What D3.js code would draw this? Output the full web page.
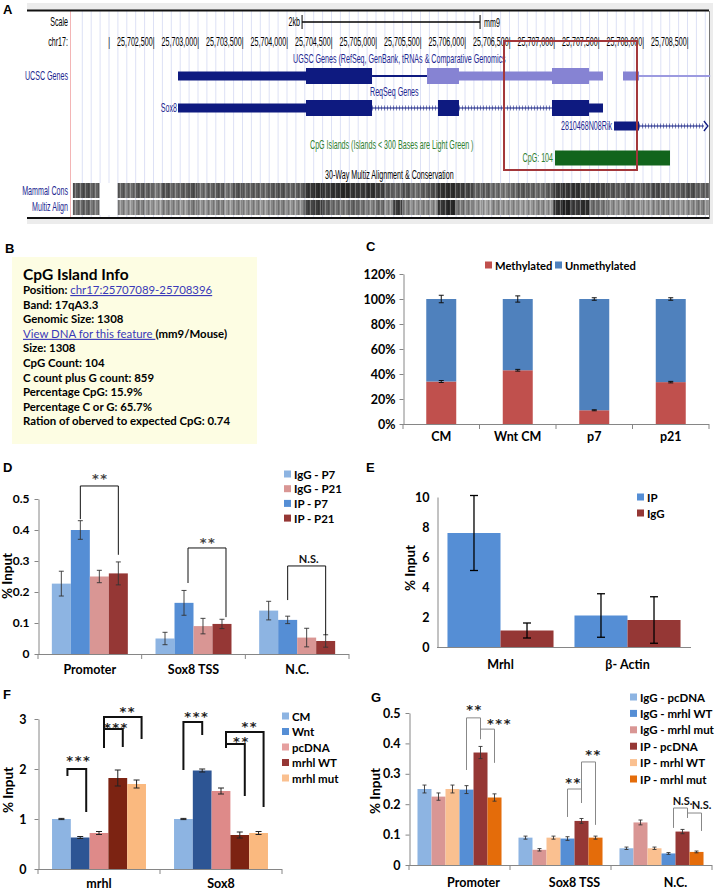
<!DOCTYPE html>
<html><head><meta charset="utf-8">
<script src="https://cdn.jsdelivr.net/npm/d3@7"></script>
<style>
body{margin:0;background:#fff;}
svg{display:block;}
</style></head><body>
<script>
// ================= DATA =================
// Panel A (genome browser)
const chrTickPos = [25702000,25702500,25703000,25703500,25704000,25704500,25705000,25705500,25706000,25706500,25707000,25707500,25708000,25708500];
const chrTickLabels = ["","25,702,500","25,703,000","25,703,500","25,704,000","25,704,500","25,705,000","25,705,500","25,706,000","25,706,500","25,707,000","25,707,500","25,708,000","25,708,500"];
const ucscGene = [
  [25702781,25704219,"utr","dark"],[25704219,25704961,"cds","dark"],[25704961,25705579,"line","dark"],
  [25705579,25705938,"cds","light"],[25705938,25706983,"utr","light"],[25706983,25707399,"cds","light"],
  [25707399,25707556,"utr","light"],[25707781,25707961,"utr","light"],[25707961,25708760,"line","pale"]];
const sox8Gene = [
  [25702781,25704219,"utr","dark"],[25704219,25704961,"cds","dark"],[25704961,25705702,"intron","dark"],
  [25705702,25705938,"cds","dark"],[25705938,25706983,"intron","dark"],[25706983,25707399,"cds","dark"],
  [25707399,25707556,"utr","dark"]];
const rikGene = [[25707680,25707961,"utr","dark"],[25707961,25708690,"intron","dark"]];
const cpgIsland = [25707017,25708309];
const highlightBox = [25706444,25707938];
const scaleBar = [25704175,25706175];
const consStart = 25701600;
const mammalCons = [90,80,100,null,null,
 95,110,90,100,120,85,105,95,80,110,100,90,115,85,100,95,105,90,85,100,95,
 55,45,60,50,40,55,60,50,65, 90,100,85,110,95,80, 50,45,60,70,
 100,95,110,120,105,90,100,110,95, 60,55,50,65,60,70,
 85,95,80,100,90,75,85,95,90,80,100,90];
const multizAlign = [110,100,120,null,null,
 140,150,130,145,155,135,140,150,125,145,140,130,150,135,145,140,150,135,130,145,140,
 70,60,90,110,120,100,115,130,110, 140,60,130,145,135,140, 55,40,120,130,
 150,160,140,150,145,155,150,140,150, 50,35,60,45,110,120,
 140,150,135,145,150,140,135,145,150,140,130,145];

// Panel B
const bTitle = "CpG Island Info";
const bLabels = ["Position: ","Band: ","Genomic Size: ","","Size: ","CpG Count: ","C count plus G count: ","Percentage CpG: ","Percentage C or G: ","Ration of oberved to expected CpG: "];
const bValues = ["chr17:25707089-25708396","17qA3.3","1308","View DNA for this feature ","1308","104","859","15.9%","65.7%","0.74"];
const bLinks = [true,false,false,true,false,false,false,false,false,false];
const bSuffix = ["","","","(mm9/Mouse)","","","","","",""];

// Panel C
const cCats = ["CM","Wnt CM","p7","p21"];
const cMethylated = [34,43,11,33.5];
const cMethylatedErr = [0.8,0.7,0.4,0.6];
const cUnmethylated = [66,57,89,66.5];
const cTotalErr = [3,2.5,1,1];
const cTicks = [0,20,40,60,80,100,120];

// Panel D
const dCats = ["Promoter","Sox8 TSS","N.C."];
const dSeries = ["IgG - P7","IP - P7","IgG - P21","IP - P21"];
const dLegend = ["IgG - P7","IgG - P21","IP - P7","IP - P21"];
const dIgGP7 = [0.227,0.05,0.14],  dIgGP7Err = [0.04,0.02,0.03];
const dIPP7 = [0.40,0.165,0.11],   dIPP7Err = [0.03,0.04,0.012];
const dIgGP21 = [0.25,0.09,0.053], dIgGP21Err = [0.02,0.025,0.03];
const dIPP21 = [0.26,0.097,0.042], dIPP21Err = [0.037,0.015,0.02];
const dTicks = [0,0.1,0.2,0.3,0.4,0.5];
const dBrackets = [
  {cat:"Promoter",a:1,b:3,top:0.542,endA:0.435,endB:0.32,label:"**"},
  {cat:"Sox8 TSS",a:1,b:3,top:0.342,endA:0.229,endB:0.119,label:"**"},
  {cat:"N.C.",a:1,b:3,top:0.284,endA:0.174,endB:0.061,label:"N.S."}];

// Panel E
const eCats = ["Mrhl","β- Actin"];
const eSeries = ["IP","IgG"];
const eIP = [7.6,2.1], eIPErr = [2.5,1.45];
const eIgG = [1.1,1.8], eIgGErr = [0.5,1.55];
const eTicks = [0,2,4,6,8,10];

// Panel F
const fCats = ["mrhl","Sox8"];
const fSeries = ["CM","Wnt","pcDNA","mrhl WT","mrhl mut"];
const fCM = [1.0,1.0], fCMErr = [0.012,0.012];
const fWnt = [0.63,1.97], fWntErr = [0.02,0.03];
const fPcDNA = [0.72,1.56], fPcDNAErr = [0.03,0.06];
const fMrhlWT = [1.82,0.68], fMrhlWTErr = [0.16,0.06];
const fMrhlMut = [1.7,0.72], fMrhlMutErr = [0.08,0.03];
const fTicks = [0,1,2,3];
const fBrackets = [
  {cat:"mrhl",a:0,b:1,top:2.0,endA:1.86,endB:1.14,label:"***"},
  {cat:"mrhl",a:2,b:3,top:2.8,endA:2.42,endB:2.44,label:"***"},
  {cat:"mrhl",a:2,b:4,top:3.04,endA:2.42,endB:2.6,label:"**"},
  {cat:"Sox8",a:0,b:1,top:2.94,endA:1.98,endB:2.68,label:"***"},
  {cat:"Sox8",a:2,b:3,top:2.5,endA:2.42,endB:1.46,label:"**"},
  {cat:"Sox8",a:2,b:4,top:2.74,endA:2.42,endB:1.24,label:"**"}];

// Panel G
const gCats = ["Promoter","Sox8 TSS","N.C."];
const gSeries = ["IgG - pcDNA","IgG - mrhl mut","IP - mrhl WT","IgG - mrhl WT","IP - pcDNA","IP - mrhl mut"];
const gLegend = ["IgG - pcDNA","IgG - mrhl WT","IgG - mrhl mut","IP - pcDNA","IP - mrhl WT","IP - mrhl mut"];
const gIgGPcDNA = [0.25,0.09,0.055],   gIgGPcDNAErr = [0.013,0.005,0.004];
const gIgGMut = [0.225,0.05,0.14],     gIgGMutErr = [0.012,0.004,0.008];
const gIPWT = [0.25,0.09,0.055],       gIPWTErr = [0.013,0.005,0.004];
const gIgGWT = [0.248,0.087,0.038],    gIgGWTErr = [0.013,0.006,0.003];
const gIPPcDNA = [0.37,0.145,0.11],    gIPPcDNAErr = [0.02,0.008,0.007];
const gIPMut = [0.222,0.09,0.043],     gIPMutErr = [0.012,0.005,0.003];
const gTicks = [0,0.1,0.2,0.3,0.4,0.5];
const gBrackets = [
  {cat:"Promoter",a:3,b:4,top:0.484,endA:0.3125,endB:0.414,label:"**"},
  {cat:"Promoter",a:4,b:5,top:0.447,endA:0.414,endB:0.336,label:"***"},
  {cat:"Sox8 TSS",a:3,b:4,top:0.25,endA:0.158,endB:0.204,label:"**"},
  {cat:"Sox8 TSS",a:4,b:5,top:0.339,endA:0.204,endB:0.132,label:"**"},
  {cat:"N.C.",a:3,b:4,top:0.1875,endA:0.122,endB:0.155,label:"N.S."},
  {cat:"N.C.",a:4,b:5,top:0.171,endA:0.155,endB:0.112,label:"N.S."}];

// ================= LAYOUT (annotation nudges: [bracket shift x, label dx, label rise]) =================
const dBracketLayout = [[0,0,11],[4,0,9],[0,2,7]];
const fBracketLayout = [[6,1,12],[5,2,5],[5,4,9],[0,3,9],[5,5,6],[5,4,9]];
const gBracketLayout = [[0,0,11],[0,11,9],[0,-2,10],[0,4,10],[5,2,7],[5,7,8]];

// ================= DRAW =================
const F = "Lato, 'Open Sans', sans-serif";
const NARROW = "'Liberation Sans Narrow','Liberation Sans',Arial,sans-serif";
const svg = d3.select("body").append("svg").attr("width",720).attr("height",890);

function panelLetter(t,x,y){
  svg.append("text").attr("x",x).attr("y",y).attr("font-family","'Liberation Sans',Arial,sans-serif")
    .attr("font-weight","bold").attr("font-size",13).text(t);
}
function condText(g,x,y,txt,anchor,color){
  return g.append("text").attr("transform",`translate(${x},${y}) scale(0.57,1)`)
    .attr("text-anchor",anchor||"start").attr("dominant-baseline","central")
    .attr("font-family",NARROW).attr("font-size",12.5).attr("fill",color||"#000").text(txt);
}

// ---------- Panel A ----------
const gA = svg.append("g");
const gx = d3.scaleLinear([25702500,25708500],[153,687]);
const geneCol = {dark:"#0e1a80",light:"#8683d3",pale:"#9c9ae0"};
gA.append("rect").attr("x",27).attr("y",3).attr("width",686).attr("height",221).attr("fill","#ececec");
gA.append("rect").attr("x",27).attr("y",11).attr("width",682).attr("height",206).attr("fill","#fff");
gA.selectAll("line.grid").data(d3.range(25701700,25708701,100)).join("line")
  .attr("x1",d=>gx(d)+0.5).attr("x2",d=>gx(d)+0.5).attr("y1",11).attr("y2",217)
  .attr("stroke","#dde1f5").attr("stroke-width",1);
gA.append("line").attr("x1",70.5).attr("x2",70.5).attr("y1",11).attr("y2",217).attr("stroke","#f3b5b5");
gA.append("line").attr("x1",27).attr("x2",709).attr("y1",10.5).attr("y2",10.5).attr("stroke","#111").attr("stroke-width",2);
gA.append("line").attr("x1",27).attr("x2",709).attr("y1",218).attr("y2",218).attr("stroke","#111").attr("stroke-width",2);
gA.append("line").attr("x1",709.5).attr("x2",709.5).attr("y1",11).attr("y2",219).attr("stroke","#777");

condText(gA,68,22,"Scale","end");
condText(gA,300,22,"2kb","end");
gA.append("line").attr("x1",gx(scaleBar[0])).attr("x2",gx(scaleBar[1])).attr("y1",22).attr("y2",22).attr("stroke","#000").attr("stroke-width",1.3);
[scaleBar[0],scaleBar[1]].forEach(p=>gA.append("line").attr("x1",gx(p)).attr("x2",gx(p)).attr("y1",15).attr("y2",29).attr("stroke","#000"));
condText(gA,gx(scaleBar[1])+4,23,"mm9","start");
condText(gA,68,42,"chr17:","end");
chrTickPos.forEach((p,i)=>condText(gA,gx(p)+1.5,42,chrTickLabels[i]+"|","end"));

function drawGene(segs,yc){
  segs.forEach(([s,e,t,c])=>{
    const x1=gx(s),x2=gx(e),col=geneCol[c];
    if(t==="cds") gA.append("rect").attr("x",x1).attr("y",yc-8).attr("width",x2-x1).attr("height",16).attr("fill",col);
    else if(t==="utr") gA.append("rect").attr("x",x1).attr("y",yc-4.5).attr("width",x2-x1).attr("height",9).attr("fill",col);
    else if(t==="line") gA.append("rect").attr("x",x1).attr("y",yc-1).attr("width",x2-x1).attr("height",2).attr("fill",col);
    else {
      gA.append("line").attr("x1",x1).attr("x2",x2).attr("y1",yc).attr("y2",yc).attr("stroke",col).attr("stroke-width",1);
      gA.append("line").attr("x1",x1).attr("x2",x2).attr("y1",yc).attr("y2",yc).attr("stroke",col)
        .attr("stroke-width",5).attr("stroke-dasharray","1,2").attr("opacity",0.55);
    }
  });
}
condText(gA,68,76,"UCSC Genes","end","#1c2690");
condText(gA,293,59,"UGSC Genes (RefSeq, GenBank, tRNAs &  Comparative Genomics","start","#1c2690");
drawGene(ucscGene,76);
condText(gA,370,92,"ReqSeq Genes","start","#1c2690");
condText(gA,gx(sox8Gene[0][0])-1,108,"Sox8","end","#1c2690");
drawGene(sox8Gene,108);
condText(gA,gx(rikGene[0][0])-2,126,"2810468N08Rik","end","#1c2690");
drawGene(rikGene,126);
{const xe=gx(rikGene[1][1]);
 gA.append("path").attr("d",`M${xe},121 L${xe+4},126 L${xe},131`).attr("fill","none").attr("stroke",geneCol.dark).attr("stroke-width",1.3);}
condText(gA,310,145,"CpG Islands (Islands < 300 Bases are Light Green )","start","#2e8030");
condText(gA,gx(cpgIsland[0])-2,158,"CpG: 104","end","#2e8030");
gA.append("rect").attr("x",gx(cpgIsland[0])).attr("y",150.5).attr("width",gx(cpgIsland[1])-gx(cpgIsland[0])).attr("height",15).attr("fill","#12641c");
condText(gA,325,175,"30-Way Multiz Alignment & Conservation","start","#000");

const defs = svg.append("defs");
const pat = defs.append("pattern").attr("id","stripes").attr("patternUnits","userSpaceOnUse").attr("width",5).attr("height",10);
pat.append("rect").attr("x",0).attr("y",0).attr("width",1).attr("height",10).attr("fill","#fff").attr("opacity",0.28);
pat.append("rect").attr("x",3).attr("y",0).attr("width",1).attr("height",10).attr("fill","#000").attr("opacity",0.18);
function consTrack(vals,y,h){
  vals.forEach((v,i)=>{
    if(v===null) return;
    const s=consStart+i*100, x1=Math.max(gx(s),72), x2=Math.min(gx(s+100),708.5);
    if(x2<=x1) return;
    gA.append("rect").attr("x",x1).attr("y",y).attr("width",x2-x1+0.3).attr("height",h).attr("fill",d3.rgb(v,v,v));
  });
  gA.append("rect").attr("x",72).attr("y",y).attr("width",636.5).attr("height",h).attr("fill","url(#stripes)");
}
consTrack(mammalCons,183,15);
consTrack(multizAlign,200,15);
gA.append("rect").attr("x",gx(consStart+300)).attr("y",183).attr("width",gx(consStart+500)-gx(consStart+300)).attr("height",32).attr("fill","#fff");
condText(gA,68,191,"Mammal Cons","end","#1c2690");
condText(gA,68,207,"Multiz Align","end","#1c2690");
gA.append("rect").attr("x",gx(highlightBox[0])).attr("y",41).attr("width",gx(highlightBox[1])-gx(highlightBox[0])).attr("height",129)
  .attr("fill","none").attr("stroke","#a3363a").attr("stroke-width",2);
panelLetter("A",3,14);

// ---------- Panel B ----------
const gB = svg.append("g");
panelLetter("B",5,253);
gB.append("rect").attr("x",12).attr("y",257).attr("width",245).attr("height",187).attr("fill","#fdfde3");
gB.append("text").attr("x",23).attr("y",280).attr("font-family",F).attr("font-weight","bold").attr("font-size",15.5).text(bTitle);
bLabels.forEach((lab,i)=>{
  const t = gB.append("text").attr("x",23).attr("y",294+i*14.6).attr("font-family",F).attr("font-size",11.4).attr("font-weight","bold");
  if(lab) t.append("tspan").text(lab);
  const v = t.append("tspan").text(bValues[i]);
  if(bLinks[i]) v.attr("fill","#3a3ab8").attr("font-weight","normal").attr("text-decoration","underline");
  if(bSuffix[i]) t.append("tspan").text(bSuffix[i]);
});

// ---------- helpers ----------
function styleAxis(a,fs){
  a.select(".domain").attr("stroke","#868686");
  a.selectAll(".tick line").attr("stroke","#868686");
  a.selectAll(".tick text").attr("font-family",F).attr("font-weight","bold").attr("font-size",fs||12).attr("fill","#000");
}
function errBar(g,x,ya,yb,cap,col,sw){
  g.append("line").attr("x1",x).attr("x2",x).attr("y1",ya).attr("y2",yb).attr("stroke",col).attr("stroke-width",sw);
  [ya,yb].forEach(yy=>g.append("line").attr("x1",x-cap/2).attr("x2",x+cap/2).attr("y1",yy).attr("y2",yy).attr("stroke",col).attr("stroke-width",sw));
}
function yTitle(g,x,y){
  g.append("text").attr("transform",`translate(${x},${y}) rotate(-90)`).attr("text-anchor","middle")
    .attr("font-family",F).attr("font-weight","bold").attr("font-size",13.5).text("% Input");
}
function legend(g,names,colors,x,y0,dy,fs){
  names.forEach((n,i)=>{
    g.append("rect").attr("x",x).attr("y",y0+i*dy-3.5).attr("width",7).attr("height",7).attr("fill",colors[i]);
    g.append("text").attr("x",x+10).attr("y",y0+i*dy).attr("dominant-baseline","central")
      .attr("font-family",F).attr("font-weight","bold").attr("font-size",fs||11.5).text(n);
  });
}
function catLabels(g,x0,cats,y,dx){
  cats.forEach(c=>g.append("text").attr("x",x0(c)+x0.bandwidth()/2+(dx||0)).attr("y",y).attr("text-anchor","middle")
    .attr("font-family",F).attr("font-weight","bold").attr("font-size",12.5).text(c));
}
function grouped(g,cats,vals,errs,colors,x0,x1,y,errCol,cap,sw){
  vals.forEach((arr,si)=>{
    g.selectAll(null).data(cats).join("rect")
      .attr("x",c=>x0(c)+x1(si)).attr("width",x1.bandwidth())
      .attr("y",(c,ci)=>y(arr[ci])).attr("height",(c,ci)=>y(0)-y(arr[ci])).attr("fill",colors[si]);
  });
  vals.forEach((arr,si)=>cats.forEach((c,ci)=>{
    const cx=x0(c)+x1(si)+x1.bandwidth()/2;
    errBar(g,cx,y(arr[ci]+errs[si][ci]),y(arr[ci]-errs[si][ci]),cap,errCol,sw);
  }));
}
function brackets(g,list,layout,x0,x1,y,col,sw,starCol){
  list.forEach((b,i)=>{
    const [sh,ldx,rise]=layout[i];
    const xa=x0(b.cat)+x1(b.a)+x1.bandwidth()/2+sh, xb=x0(b.cat)+x1(b.b)+x1.bandwidth()/2+sh;
    g.append("path").attr("d",`M${xa},${y(b.endA)}V${y(b.top)}H${xb}V${y(b.endB)}`)
      .attr("fill","none").attr("stroke",col).attr("stroke-width",sw);
    const star = b.label.indexOf("*")>=0;
    const cy = y(b.top)-rise, fs = star?13:11;
    g.append("text").attr("x",(xa+xb)/2+ldx+(star?1:0)).attr("y",cy+(star?0.58:0.36)*fs).attr("text-anchor","middle")
      .attr("font-family",star?"'DejaVu Sans',sans-serif":F).attr("font-weight","bold").attr("font-size",fs)
      .attr("letter-spacing",star?"1.5px":"0").attr("fill",star?starCol:"#111").text(b.label);
  });
}
function xAxisLine(g,x0,y,ticks){
  const r=x0.range();
  g.append("line").attr("x1",r[0]).attr("x2",r[1]).attr("y1",y+0.5).attr("y2",y+0.5).attr("stroke","#868686");
  if(ticks) d3.range(x0.domain().length+1).forEach(i=>{
    const xx=r[0]+i*(r[1]-r[0])/x0.domain().length;
    g.append("line").attr("x1",xx).attr("x2",xx).attr("y1",y).attr("y2",y+5).attr("stroke","#868686");
  });
}

// ---------- Panel C ----------
const gC = svg.append("g");
panelLetter("C",366,251);
const xC = d3.scaleBand(cCats,[403,709]).paddingInner(0.608).paddingOuter(0.304);
const yC = d3.scaleLinear([0,120],[424,274]);
const axC = gC.append("g").attr("transform","translate(403.5,0)")
  .call(d3.axisLeft(yC).tickValues(cTicks).tickFormat(d=>d+"%").tickSize(4).tickSizeOuter(0).tickPadding(4));
styleAxis(axC,12.5);
const cRows = cCats.map((c,i)=>({cat:c,m:cMethylated[i],u:cUnmethylated[i]}));
const cStack = d3.stack().keys(["m","u"])(cRows);
const cColors = {m:"#c0504d",u:"#4f81bd"};
cStack.forEach(layer=>{
  gC.selectAll(null).data(layer).join("rect").attr("x",d=>xC(d.data.cat)).attr("width",xC.bandwidth())
    .attr("y",d=>yC(d[1])).attr("height",d=>yC(d[0])-yC(d[1])).attr("fill",cColors[layer.key]);
});
xAxisLine(gC,xC,424,true);
cCats.forEach((c,i)=>{
  const cx=xC(c)+xC.bandwidth()/2;
  errBar(gC,cx,yC(cMethylated[i]+cMethylatedErr[i]),yC(cMethylated[i]-cMethylatedErr[i]),5,"#111",1);
  const tot=cMethylated[i]+cUnmethylated[i];
  errBar(gC,cx,yC(tot+cTotalErr[i]),yC(tot-cTotalErr[i]),5,"#111",1);
});
catLabels(gC,xC,cCats,441);
legend(gC,["Methylated"],["#c0504d"],485,265,0,11.2);
legend(gC,["Unmethylated"],["#4f81bd"],555,265,0,11.2);

// ---------- Panel D ----------
const gD = svg.append("g");
panelLetter("D",3,472);
const xD = d3.scaleBand(dCats,[38,349]).paddingInner(0.267).paddingOuter(0.1335);
const xD1 = d3.scaleBand(d3.range(4),[0,xD.bandwidth()]);
const yD = d3.scaleLinear([0,0.5],[654,499]);
const dColors = {"IgG - P7":"#8db4e2","IP - P7":"#558ed5","IgG - P21":"#d99694","IP - P21":"#953735"};
const axD = gD.append("g").attr("transform","translate(38.5,0)")
  .call(d3.axisLeft(yD).tickValues(dTicks).tickFormat(d=>d===0?"0":d3.format(".1f")(d)).tickSize(4).tickSizeOuter(0).tickPadding(5));
styleAxis(axD,12);
grouped(gD,dCats,[dIgGP7,dIPP7,dIgGP21,dIPP21],[dIgGP7Err,dIPP7Err,dIgGP21Err,dIPP21Err],dSeries.map(s=>dColors[s]),xD,xD1,yD,"#333",5,0.9);
xAxisLine(gD,xD,654,true);
brackets(gD,dBrackets,dBracketLayout,xD,xD1,yD,"#111",1,"#444");
catLabels(gD,xD,dCats,674);
yTitle(gD,12,576);
legend(gD,dLegend,dLegend.map(s=>dColors[s]),284,474,14.7,11.5);

// ---------- Panel E ----------
const gE = svg.append("g");
panelLetter("E",366,472);
const xE = d3.scaleBand(eCats,[437,691]).paddingInner(0.165).paddingOuter(0.0825);
const xE1 = d3.scaleBand(d3.range(2),[0,xE.bandwidth()]);
const yE = d3.scaleLinear([0,10],[647,497]);
const eColors = ["#558ed5","#953735"];
const axE = gE.append("g").attr("transform","translate(437.5,0)")
  .call(d3.axisLeft(yE).tickValues(eTicks).tickSize(0).tickSizeOuter(0).tickPadding(8));
styleAxis(axE,12.5);
grouped(gE,eCats,[eIP,eIgG],[eIPErr,eIgGErr],eColors,xE,xE1,yE,"#000",8,1.3);
xAxisLine(gE,xE,647,false);
catLabels(gE,xE,eCats,669);
yTitle(gE,415,568);
legend(gE,eSeries,eColors,637,497,16,11.5);

// ---------- Panel F ----------
const gF = svg.append("g");
panelLetter("F",3,699);
const xF = d3.scaleBand(fCats,[38,282]).paddingInner(0.23).paddingOuter(0.115);
const xF1 = d3.scaleBand(d3.range(5),[0,xF.bandwidth()]);
const yF = d3.scaleLinear([0,3],[869,719]);
const fBarColors = ["#8db4e2","#2d5594","#de8a89","#7c2312","#fab97f"];
const fLegendColors = ["#8db4e2","#558ed5","#e6a09f","#953735","#fac090"];
const axF = gF.append("g").attr("transform","translate(38.5,0)")
  .call(d3.axisLeft(yF).tickValues(fTicks).tickFormat(d3.format("d")).tickSize(4).tickSizeOuter(0).tickPadding(8));
styleAxis(axF,12.5);
grouped(gF,fCats,[fCM,fWnt,fPcDNA,fMrhlWT,fMrhlMut],[fCMErr,fWntErr,fPcDNAErr,fMrhlWTErr,fMrhlMutErr],fBarColors,xF,xF1,yF,"#222",6,1);
xAxisLine(gF,xF,869,true);
brackets(gF,fBrackets,fBracketLayout,xF,xF1,yF,"#111",2,"#222");
catLabels(gF,xF,fCats,888);
yTitle(gF,13,790);
legend(gF,fSeries,fLegendColors,282,716,15.5,11.5);

// ---------- Panel G ----------
const gG = svg.append("g");
panelLetter("G",371,702);
const xG = d3.scaleBand(gCats,[409,712]).paddingInner(0.168).paddingOuter(0.084);
const xG1 = d3.scaleBand(d3.range(6),[0,xG.bandwidth()]);
const yG = d3.scaleLinear([0,0.5],[865,713]);
const gColors = {"IgG - pcDNA":"#8db4e2","IgG - mrhl WT":"#558ed5","IgG - mrhl mut":"#d99694","IP - pcDNA":"#953735","IP - mrhl WT":"#fac090","IP - mrhl mut":"#e46c0a"};
const axG = gG.append("g").attr("transform","translate(409.5,0)")
  .call(d3.axisLeft(yG).tickValues(gTicks).tickFormat(d=>d===0?"0":d3.format(".1f")(d)).tickSize(4).tickSizeOuter(0).tickPadding(5));
styleAxis(axG,12.5);
grouped(gG,gCats,[gIgGPcDNA,gIgGMut,gIPWT,gIgGWT,gIPPcDNA,gIPMut],[gIgGPcDNAErr,gIgGMutErr,gIPWTErr,gIgGWTErr,gIPPcDNAErr,gIPMutErr],gSeries.map(s=>gColors[s]),xG,xG1,yG,"#333",4,0.9);
xAxisLine(gG,xG,865,true);
brackets(gG,gBrackets,gBracketLayout,xG,xG1,yG,"#888",1,"#222");
catLabels(gG,xG,gCats,887,14);
yTitle(gG,380,791);
legend(gG,gLegend,gLegend.map(s=>gColors[s]),630,697,16.4,11.5);
</script>
</body></html>
